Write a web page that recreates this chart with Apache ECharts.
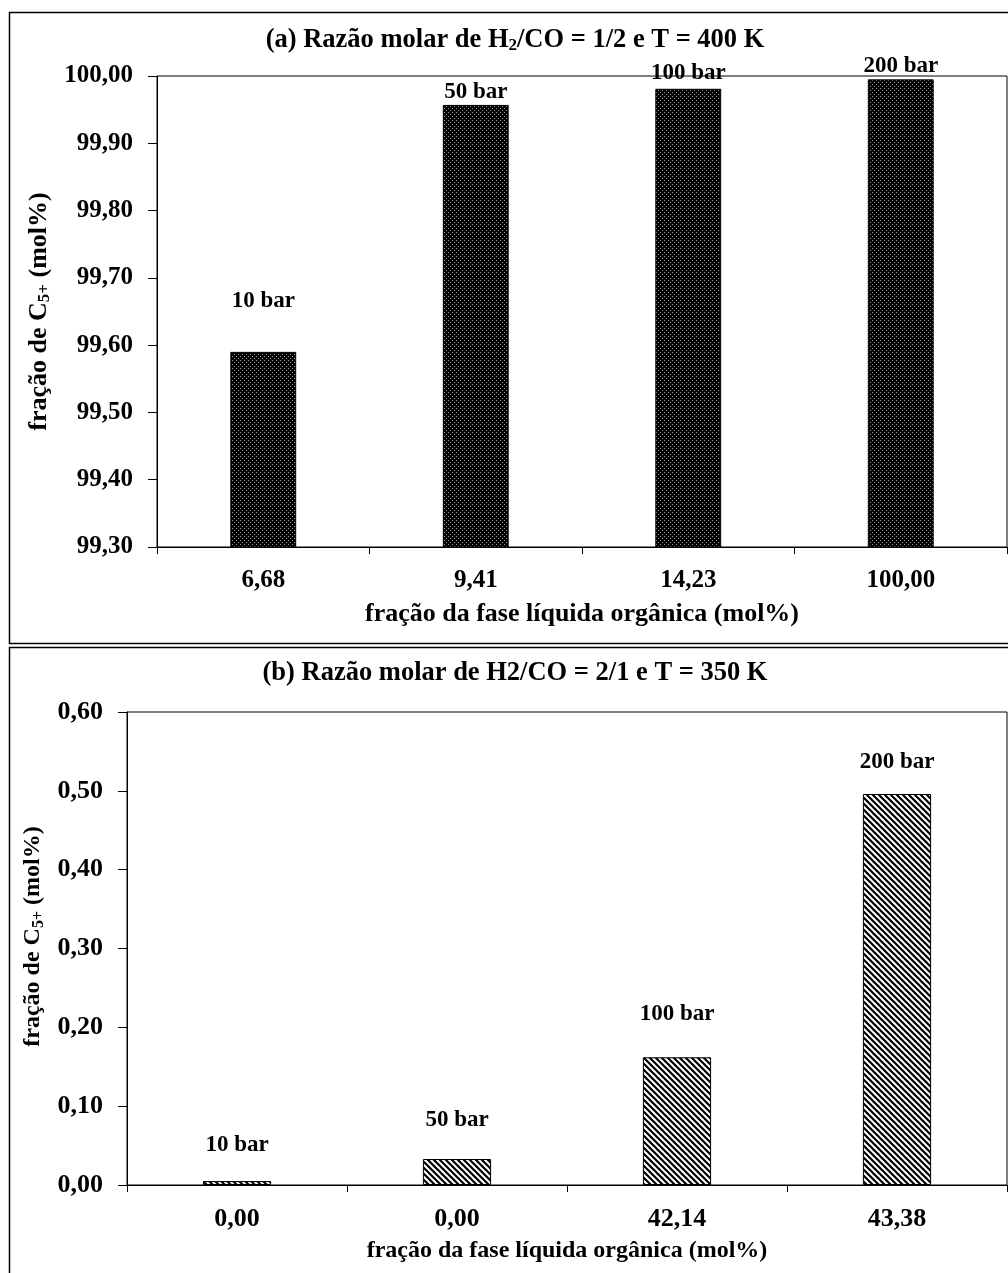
<!DOCTYPE html>
<html><head><meta charset="utf-8">
<script src="https://cdn.jsdelivr.net/npm/echarts@6/dist/echarts.min.js"></script>
<style>html,body{margin:0;padding:0;background:#fff}#c{width:1008px;height:1273px}</style>
</head><body><div id="c"></div>
<script>
// ---- data ----
const catsA = ['6,68', '9,41', '14,23', '100,00'];
const valuesA = [99.59, 99.957, 99.981, 99.995];
const labelsA = ['10 bar', '50 bar', '100 bar', '200 bar'];
const catsB = ['0,00', '0,00', '42,14', '43,38'];
const valuesB = [0.005, 0.033, 0.162, 0.496];
const labelsB = ['10 bar', '50 bar', '100 bar', '200 bar'];
const titleA = '(a) Razão molar de H{sub|2}/CO = 1/2 e T = 400 K';
const titleB = '(b) Razão molar de H2/CO = 2/1 e T = 350 K';
const xName = 'fração da fase líquida orgânica (mol%)';
const yName = 'fração de C{sub|5+} (mol%)';

// ---- styling (not data) ----
const labelGapA = [39, 1, 4, 2];
const labelGapB = [24, 27, 32, 20];
const FONT = '"Liberation Serif", "Times New Roman", serif';

function dotPattern() {
  const c = document.createElement('canvas'); c.width = 4; c.height = 4;
  const g = c.getContext('2d');
  g.fillStyle = '#000'; g.fillRect(0, 0, 4, 4);
  g.fillStyle = '#9a9a9a'; g.fillRect(0, 0, 1, 1); g.fillRect(2, 2, 1, 1);
  return c;
}
function hatchPattern() {
  const s = 6;
  const c = document.createElement('canvas'); c.width = s; c.height = s;
  const g = c.getContext('2d');
  g.fillStyle = '#fff'; g.fillRect(0, 0, s, s);
  g.strokeStyle = '#000'; g.lineWidth = 2.2;
  g.beginPath();
  for (let k = -1; k <= 1; k++) { g.moveTo(-1, k * s - 1); g.lineTo(s + 1, s + k * s + 1); }
  g.stroke();
  return c;
}
const fmt = v => (Math.round(v * 100) / 100).toFixed(2).replace('.', ',');
const subRich = size => ({ sub: { fontFamily: FONT, fontWeight: 'bold', fontSize: size, padding: [Math.round(size * 0.7), 0, 0, 0], color: '#000' } });

function axisPair(gi, cats, yMin, yMax, yInt, nameSizeX, nameSizeY, yNameGap, yNamePad, tick) {
  return {
    x: {
      type: 'category', gridIndex: gi, data: cats,
      axisLine: { lineStyle: { color: '#000', width: 1 } },
      axisTick: { show: true, length: 7, lineStyle: { color: '#000' } },
      axisLabel: { color: '#000', fontFamily: FONT, fontWeight: 'bold', fontSize: tick, margin: 21 },
      name: xName, nameLocation: 'middle', nameGap: 54,
      nameTextStyle: { color: '#000', fontFamily: FONT, fontWeight: 'bold', fontSize: nameSizeX }
    },
    y: {
      type: 'value', gridIndex: gi, min: yMin, max: yMax, interval: yInt,
      axisLine: { show: true, lineStyle: { color: '#000', width: 1 } },
      axisTick: { show: true, length: 9, lineStyle: { color: '#000' } },
      splitLine: { show: false },
      axisLabel: { color: '#000', fontFamily: FONT, fontWeight: 'bold', fontSize: tick, margin: 24, formatter: fmt },
      name: yName, nameLocation: 'middle', nameGap: yNameGap,
      nameTextStyle: { color: '#000', fontFamily: FONT, fontWeight: 'bold', fontSize: nameSizeY, padding: yNamePad, rich: subRich(Math.round(nameSizeY * 0.65)) }
    }
  };
}
const A = axisPair(0, catsA, 99.3, 100, 0.1, 26, 26, 95, 0, 25);
const B = axisPair(1, catsB, 0, 0.6, 0.1, 24, 24, 80, [0, 0, 0, 24], 26);

function barSeries(gi, vals, labels, gaps, pattern, fs) {
  return {
    type: 'bar', xAxisIndex: gi, yAxisIndex: gi, barWidth: '31%', clip: true,
    data: vals.map((v, i) => ({ value: v, label: { distance: gaps[i] } })),
    itemStyle: { color: { image: pattern, repeat: 'repeat' }, borderColor: '#000', borderWidth: 1 },
    label: {
      show: true, position: 'top', color: '#000', fontFamily: FONT, fontWeight: 'bold', fontSize: fs,
      formatter: p => labels[p.dataIndex]
    },
    emphasis: { disabled: true }, animation: false
  };
}

const chart = echarts.init(document.getElementById('c'), null, { renderer: 'canvas' });
chart.setOption({
  animation: false,
  backgroundColor: '#fff',
  grid: [
    { left: 157, top: 76, width: 850, height: 471, show: true, borderColor: '#000', borderWidth: 1, backgroundColor: 'transparent' },
    { left: 127, top: 712, width: 880, height: 473, show: true, borderColor: '#000', borderWidth: 1, backgroundColor: 'transparent' }
  ],
  xAxis: [A.x, B.x],
  yAxis: [A.y, B.y],
  series: [
    barSeries(0, valuesA, labelsA, labelGapA, dotPattern(), 23),
    barSeries(1, valuesB, labelsB, labelGapB, hatchPattern(), 23)
  ],
  graphic: [
    { type: 'rect', shape: { x: 9.5, y: 12.5, width: 1010, height: 631 }, style: { fill: 'none', stroke: '#000', lineWidth: 1.5 }, z: 100 },
    { type: 'rect', shape: { x: 9.5, y: 647.5, width: 1010, height: 640 }, style: { fill: 'none', stroke: '#000', lineWidth: 1.5 }, z: 100 },
    { type: 'text', x: 515, y: 40, style: { text: titleA, fill: '#000', font: 'bold 26.5px ' + FONT, textAlign: 'center', textVerticalAlign: 'middle', rich: subRich(17) }, z: 100 },
    { type: 'text', x: 515, y: 673, style: { text: titleB, fill: '#000', font: 'bold 26.5px ' + FONT, textAlign: 'center', textVerticalAlign: 'middle' }, z: 100 }
  ]
});
</script></body></html>
